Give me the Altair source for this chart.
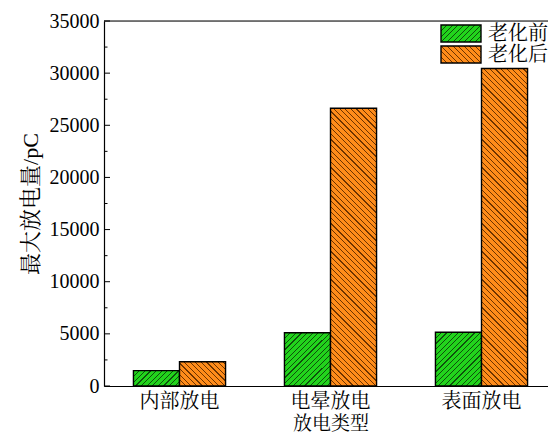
import altair as alt
import pandas as pd

categories = ["内部放电", "电晕放电", "表面放电"]
series = ["老化前", "老化后"]
before = [1470, 5110, 5150]
after = [2330, 26630, 30450]
ytick_major = [0, 5000, 10000, 15000, 20000, 25000, 30000, 35000]
ytick_minor = [2500, 7500, 12500, 17500, 22500, 27500, 32500]

FONT = "Liberation Serif, Noto Serif CJK SC, Noto Sans CJK SC, serif"
W, H = 444, 365
RANGE_W = 453
YMAX = 35000
BAR_W = 46
base_col = {"老化前": "#22d41c", "老化后": "#ff8c1a"}
line_col = {"老化前": "#0e500c", "老化后": "#6e3400"}
direction = {"老化前": "/", "老化后": "\\"}


def hatch(w, h, base, line, d, period=5.6, lw=1.15):
    s = (w + h) / (w * w + h * h)
    a, b = w * s, h * s
    if d == "/":
        x1, y1, x2, y2 = 0, 0, a, b
    else:
        x1, y1, x2, y2 = 0, 1, a, 1 - b
    total = w + h
    stops = []
    k = 0
    while k * period < total:
        t0 = k * period / total
        t1 = min(1.0, (k * period + lw) / total)
        t2 = min(1.0, (k + 1) * period / total)
        stops += [(t0, line), (t1, line), (t1, base), (t2, base)]
        k += 1
    return alt.LinearGradient(
        gradient="linear",
        x1=x1, y1=y1, x2=x2, y2=y2,
        stops=[alt.GradientStop(offset=round(o, 5), color=c) for o, c in stops],
    )


rows = []
for c, b0, a0 in zip(categories, before, after):
    rows.append({"cat": c, "ser": series[0], "val": b0})
    rows.append({"cat": c, "ser": series[1], "val": a0})
df = pd.DataFrame(rows)

xenc = alt.X(
    "cat:N",
    sort=categories,
    scale=alt.Scale(domain=categories, range=[0, RANGE_W], paddingInner=0.39, paddingOuter=0.195),
    axis=alt.Axis(
        title="放电类型", labelAngle=0, ticks=False, labelFontSize=20, labelFont=FONT,
        labelPadding=5, titleFontSize=19, titleFont=FONT, titleFontWeight="normal",
        titleX=RANGE_W / 2, titleY=43, titleBaseline="alphabetic",
        domainColor="#000000", domainWidth=1.2,
        labelColor="#000000", titleColor="#000000",
    ),
)
yenc = alt.Y(
    "val:Q",
    scale=alt.Scale(domain=[0, YMAX], nice=False),
    axis=alt.Axis(
        title="最大放电量/pC", values=ytick_major, format="d", ticks=False, grid=False,
        labelFontSize=20, labelFont=FONT, labelPadding=5, labelColor="#000000",
        titleFontSize=22, titleFont=FONT, titleFontWeight="normal", titleColor="#000000",
        titleX=-74, titleBaseline="middle", domainColor="#000000", domainWidth=1.2,
    ),
)
xoff = alt.XOffset("ser:N", scale=alt.Scale(domain=series, paddingInner=0, paddingOuter=0))

layers = []
for c in categories:
    for s in series:
        v = float(df[(df.cat == c) & (df.ser == s)].val.iloc[0])
        h = v / YMAX * H
        g = hatch(BAR_W, h, base_col[s], line_col[s], direction[s])
        layers.append(
            alt.Chart(df)
            .transform_filter((alt.datum.cat == c) & (alt.datum.ser == s))
            .mark_bar(fill=g, stroke="#000000", strokeWidth=1.4)
            .encode(x=xenc, xOffset=xoff, y=yenc)
        )

maj = pd.DataFrame({"val": ytick_major})
mnr = pd.DataFrame({"val": ytick_minor})
layers.append(
    alt.Chart(maj).mark_rule(color="#000000", strokeWidth=1).encode(
        y=alt.Y("val:Q"), x=alt.value(0), x2=alt.value(6)
    )
)
layers.append(
    alt.Chart(mnr).mark_rule(color="#000000", strokeWidth=1).encode(
        y=alt.Y("val:Q"), x=alt.value(0), x2=alt.value(3.5)
    )
)
# top frame line
layers.append(
    alt.Chart(pd.DataFrame({"k": [0]})).mark_rule(color="#000000", strokeWidth=1.2).encode(
        x=alt.value(0), x2=alt.value(RANGE_W), y=alt.value(0)
    )
)

# legend
leg_y = [(4, 21), (25, 42)]
for s, (ya, yb) in zip(series, leg_y):
    g = hatch(40, yb - ya, base_col[s], line_col[s], direction[s])
    ld = pd.DataFrame({"ser": [s]})
    layers.append(
        alt.Chart(ld).mark_rect(fill=g, stroke="#000000", strokeWidth=1.4).encode(
            x=alt.value(337), x2=alt.value(377), y=alt.value(ya), y2=alt.value(yb)
        )
    )
    layers.append(
        alt.Chart(ld).mark_text(align="left", baseline="middle", fontSize=20, font=FONT, color="#000000").encode(
            x=alt.value(384), y=alt.value((ya + yb) / 2), text="ser:N"
        )
    )

chart = (
    alt.layer(*layers)
    .properties(
        width=W, height=H,
        autosize=alt.AutoSizeParams(type="none"),
        padding={"left": 96, "top": 13, "right": 0, "bottom": 47},
    )
    .configure_view(stroke=None)
    .configure(background="#ffffff")
)

chart.save("out.html", embed_options={"renderer": "svg", "actions": False})
